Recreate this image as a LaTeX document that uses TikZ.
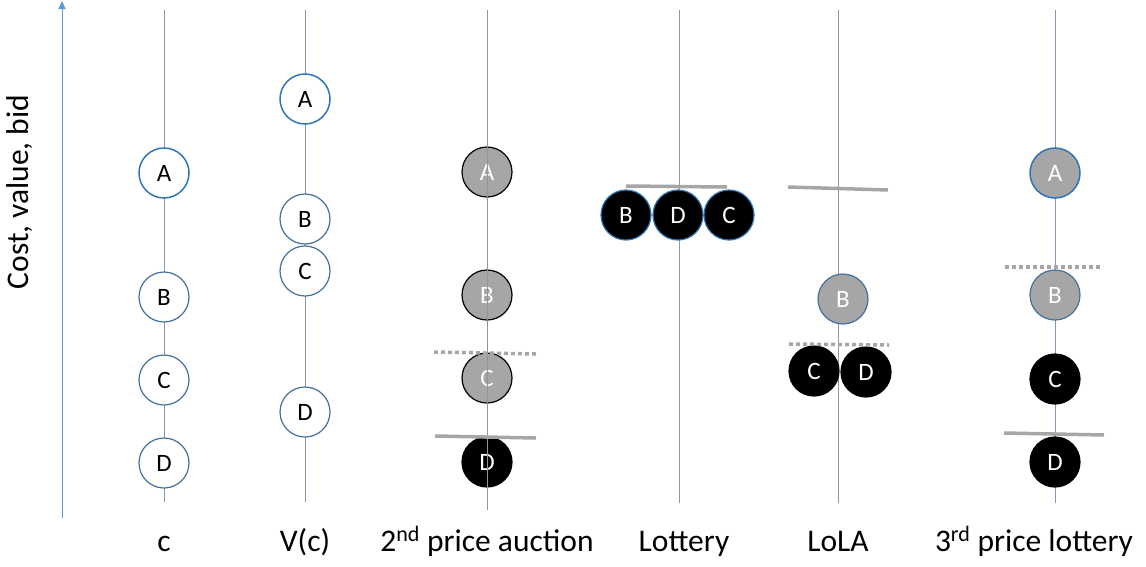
\documentclass[tikz,border=0pt]{standalone}
\usepackage{fontspec}
\setmainfont{Carlito}
\usetikzlibrary{arrows.meta}
\definecolor{axisblue}{HTML}{5B9BD5}
\definecolor{colline}{HTML}{8497B0}
\definecolor{ablue}{HTML}{2E75B6}
\definecolor{bblue}{HTML}{41719C}
\definecolor{mgray}{HTML}{A6A6A6}
\begin{document}
\begin{tikzpicture}[x=1pt,y=-1pt,
  pnode/.style={circle,minimum size=50pt,inner sep=0pt,font=\fontsize{25}{28}\selectfont},
  wnode/.style={pnode,draw=bblue,line width=1.2pt,fill=white,text=black},
  anode/.style={wnode,draw=ablue,line width=1.5pt},
  gnode/.style={pnode,fill=mgray,text=white,draw=black,line width=1.2pt},
  bnode/.style={pnode,fill=black,text=white,draw=black,line width=1.2pt},
  colline/.style={draw=colline,line width=0.9pt},
  cutsolid/.style={draw=mgray,line width=3.5pt},
  cutdot/.style={draw=mgray,line width=3.5pt,dash pattern=on 4pt off 3pt},
  lab/.style={font=\fontsize{31.5}{36}\selectfont,anchor=base}]
\useasboundingbox (0,0) rectangle (1146,566);
% axis
\coordinate (ax0) at (62,518);
\coordinate (ax1) at (62,1);
\draw[axisblue,line width=0.9pt,-{Triangle[length=8pt,width=7pt]}] (ax0) -- (ax1);
\node[rotate=90,font=\fontsize{31.5}{36}\selectfont] (ylab) at (20,192) {Cost, value, bid};
% column c
\coordinate (c0) at (164,10); \coordinate (c1) at (164,502);
\draw[colline] (c0) -- (c1);
\node[anode] (cA) at (164,173) {A};
\node[wnode] (cB) at (164,297) {B};
\node[wnode] (cC) at (164,380) {C};
\node[wnode] (cD) at (164,463) {D};
% column V(c)
\coordinate (v0) at (305,10); \coordinate (v1) at (305,502);
\draw[colline] (v0) -- (v1);
\node[anode] (vA) at (305,99) {A};
\node[wnode] (vB) at (305,219) {B};
\node[wnode] (vC) at (305,271) {C};
\node[wnode] (vD) at (305,412) {D};
% 2nd price auction
\node[gnode] (sA) at (487,172) {A};
\node[gnode] (sB) at (487,295) {B};
\node[gnode] (sC) at (487,378) {C};
\node[bnode] (sD) at (487,462) {D};
\coordinate (s0) at (487,10); \coordinate (s1) at (487,510);
\draw[colline] (s0) -- (s1);
\coordinate (sd0) at (434,352); \coordinate (sd1) at (536,354);
\draw[cutdot] (sd0) -- (sd1);
\coordinate (ss0) at (435,436); \coordinate (ss1) at (536,438);
\draw[cutsolid] (ss0) -- (ss1);
% Lottery
\coordinate (l0) at (679,10); \coordinate (l1) at (679,503);
\draw[colline] (l0) -- (l1);
\node[pnode,fill=black,text=white,draw=ablue,line width=1.2pt] (lB) at (626,215) {B};
\node[pnode,fill=black,text=white,draw=ablue,line width=1.2pt] (lD) at (678,215) {D};
\node[pnode,fill=black,text=white,draw=ablue,line width=1.2pt] (lC) at (729,215) {C};
\coordinate (ls0) at (626,186); \coordinate (ls1) at (727,187);
\draw[cutsolid] (ls0) -- (ls1);
% LoLA
\coordinate (o0) at (838,10); \coordinate (o1) at (838,503);
\draw[colline] (o0) -- (o1);
\coordinate (os0) at (788,187); \coordinate (os1) at (888,190);
\draw[cutsolid] (os0) -- (os1);
\node[pnode,fill=mgray,text=white,draw=bblue,line width=1.2pt] (oB) at (843,299) {B};
\coordinate (od0) at (789,344); \coordinate (od1) at (889,345);
\node[bnode] (oC) at (814,371) {C};
\node[bnode] (oD) at (866,372) {D};
\draw[cutdot] (od0) -- (od1);
% 3rd price lottery
\coordinate (t0) at (1055,10); \coordinate (t1) at (1055,503);
\draw[colline] (t0) -- (t1);
\node[pnode,fill=mgray,text=white,draw=ablue,line width=1.5pt] (tA) at (1055,173) {A};
\node[pnode,fill=mgray,text=white,draw=bblue,line width=1.2pt] (tB) at (1055,295) {B};
\node[bnode] (tC) at (1055,379) {C};
\node[bnode] (tD) at (1055,462) {D};
\coordinate (td0) at (1005,267); \coordinate (td1) at (1103,267);
\draw[cutdot] (td0) -- (td1);
\coordinate (ts0) at (1004,433); \coordinate (ts1) at (1104,435);
\draw[cutsolid] (ts0) -- (ts1);
% labels
\node[lab] (Lc) at (164,551) {c};
\node[lab] (Lv) at (305,551) {V(c)};
\node[lab] (Ls) at (487,551) {2\textsuperscript{nd} price auction};
\node[lab] (Ll) at (684,551) {Lottery};
\node[lab] (Lo) at (838,551) {LoLA};
\node[lab] (Lt) at (1034,551) {3\textsuperscript{rd} price lottery};
\end{tikzpicture}
\end{document}
